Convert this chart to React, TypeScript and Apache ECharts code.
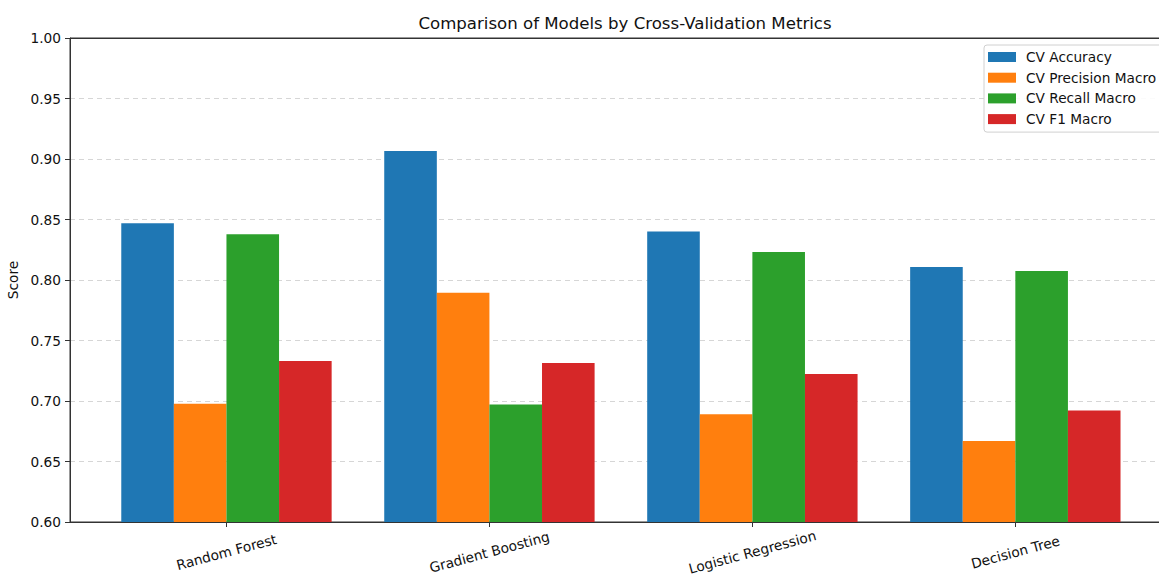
import React, { useEffect, useRef } from 'react';
import * as echarts from 'echarts';

const models = ['Random Forest', 'Gradient Boosting', 'Logistic Regression', 'Decision Tree'];
const metricNames = ['CV Accuracy', 'CV Precision Macro', 'CV Recall Macro', 'CV F1 Macro'];
const cvAccuracy = [0.8469, 0.9066, 0.8401, 0.8107];
const cvPrecisionMacro = [0.6978, 0.7895, 0.689, 0.667];
const cvRecallMacro = [0.8379, 0.6972, 0.8231, 0.8074];
const cvF1Macro = [0.733, 0.7314, 0.7223, 0.6922];
const metricValues = [cvAccuracy, cvPrecisionMacro, cvRecallMacro, cvF1Macro];
const colors = ['#1f77b4', '#ff7f0e', '#2ca02c', '#d62728'];
const modelPositions = [0, 1, 2, 3];

const FONT = 'DejaVu Sans';
const FS = 13.7;

export default function App() {
  const ref = useRef<HTMLDivElement>(null);
  useEffect(() => {
    if (!ref.current) return;
    const chart = echarts.init(ref.current, undefined, { renderer: 'svg' });
    chart.setOption({
      animation: false,
      backgroundColor: '#ffffff',
      textStyle: { fontFamily: FONT },
      title: {
        text: 'Comparison of Models by Cross-Validation Metrics',
        left: 620,
        top: 10,
        textAlign: 'center',
        textStyle: { fontFamily: FONT, fontSize: 16.6, fontWeight: 'normal', color: '#111' },
      },
      legend: {
        orient: 'vertical',
        left: 984,
        top: 45,
        icon: 'rect',
        itemWidth: 28,
        itemHeight: 10,
        itemGap: 4.7,
        padding: [4, 14, 5, 4],
        backgroundColor: 'rgba(255,255,255,0.9)',
        borderColor: '#d0d0d0',
        borderWidth: 1,
        borderRadius: 3,
        data: metricNames,
        textStyle: { fontFamily: FONT, fontSize: FS, color: '#111', lineHeight: 16, padding: [0, 0, 0, 5] },
      },
      grid: {
        left: 70,
        top: 38,
        width: 1101.8,
        height: 484,
        show: true,
        borderColor: '#333',
        borderWidth: 1,
        outerBoundsMode: 'none',
        containLabel: false,
      },
      xAxis: [
        {
          type: 'value',
          min: -0.595,
          max: 3.595,
          axisLine: { show: true, onZero: false, lineStyle: { color: '#333', width: 1 } },
          axisTick: { show: true, customValues: modelPositions, length: 5, lineStyle: { color: '#333' } },
          axisLabel: {
            customValues: modelPositions,
            formatter: (v: number) => models[Math.round(v)] ?? '',
            rotate: 15,
            align: 'center',
            verticalAlign: 'middle',
            margin: 30,
            fontFamily: FONT,
            fontSize: FS,
            color: '#111',
          },
          splitLine: { show: false },
        },
        {
          type: 'value',
          position: 'top',
          min: -0.595,
          max: 3.595,
          z: 3,
          axisLine: { show: true, onZero: false, lineStyle: { color: '#333', width: 1 } },
          axisTick: { show: false },
          axisLabel: { show: false },
          splitLine: { show: false },
        },
      ],
      yAxis: {
        type: 'value',
        min: 0.6,
        max: 1.0,
        interval: 0.05,
        name: 'Score',
        nameLocation: 'middle',
        nameGap: 42,
        nameTextStyle: { fontFamily: FONT, fontSize: FS, color: '#111' },
        axisLine: { show: true, onZero: false, lineStyle: { color: '#333', width: 1 } },
        axisTick: { show: true, length: 5, lineStyle: { color: '#333' } },
        axisLabel: {
          formatter: (v: number) => v.toFixed(2),
          margin: 9,
          fontFamily: FONT,
          fontSize: FS,
          color: '#111',
        },
        splitLine: { show: true, lineStyle: { color: '#d6d6d6', type: [5, 4], width: 1 } },
      },
      series: metricNames.map((name, k) => ({
        name,
        type: 'bar',
        xAxisIndex: 0,
        barWidth: '20%',
        barGap: '0%',
        itemStyle: { color: colors[k] },
        data: modelPositions.map((p, i) => [p, metricValues[k][i]]),
      })),
    });
    return () => chart.dispose();
  }, []);
  return (
    <div style={{ position: 'absolute', left: 0, top: 0, width: 1159, height: 577, overflow: 'hidden', background: '#fff' }}>
      <div ref={ref} style={{ width: 1200, height: 577 }} />
    </div>
  );
}
